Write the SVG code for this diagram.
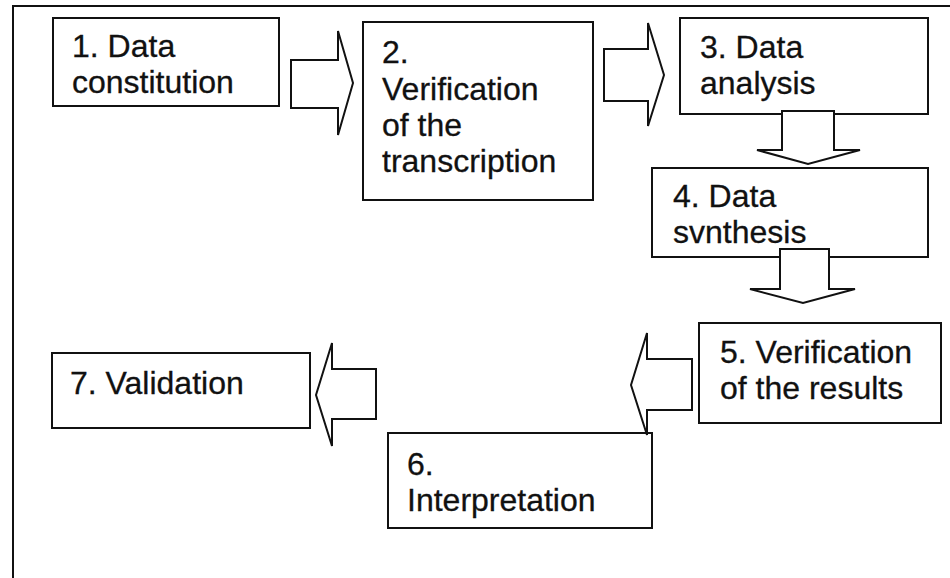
<svg xmlns="http://www.w3.org/2000/svg" width="950" height="578" viewBox="0 0 950 578">
<style>
.box{fill:#fff;stroke:#111;stroke-width:2}
.lbl{font-family:"Liberation Sans",Arial,Helvetica,sans-serif;font-size:32px;fill:#111;stroke:#111;stroke-width:0.3}
.arr{fill:#fff;stroke:#111;stroke-width:2;stroke-linejoin:miter}
.frame{fill:none;stroke:#111;stroke-width:2}
</style>
<rect width="950" height="578" fill="#fff"/>
<path class="frame" d="M13,578 V6 H950"/>
<g id="node1">
<rect class="box" x="53" y="18" width="226" height="88"/>
<text class="lbl"><tspan x="72" y="57">1. Data</tspan><tspan x="72" y="93">constitution</tspan></text>
</g>
<g id="node2">
<rect class="box" x="363" y="22" width="230" height="178"/>
<text class="lbl"><tspan x="382" y="63">2.</tspan><tspan x="382" y="100">Verification</tspan><tspan x="382" y="136">of the</tspan><tspan x="382" y="172">transcription</tspan></text>
</g>
<g id="node3">
<rect class="box" x="680" y="18" width="248" height="96"/>
<text class="lbl"><tspan x="700" y="58">3. Data</tspan><tspan x="700" y="94">analysis</tspan></text>
</g>
<g id="node4">
<rect class="box" x="652" y="168" width="276" height="89"/>
<text class="lbl"><tspan x="673" y="207">4. Data</tspan><tspan x="673" y="243">svnthesis</tspan></text>
</g>
<g id="node5">
<rect class="box" x="699" y="323" width="242" height="100"/>
<text class="lbl"><tspan x="720" y="363">5. Verification</tspan><tspan x="720" y="399">of the results</tspan></text>
</g>
<g id="node6">
<rect class="box" x="388" y="433" width="264" height="95"/>
<text class="lbl"><tspan x="407" y="475">6.</tspan><tspan x="407" y="511">Interpretation</tspan></text>
</g>
<g id="node7">
<rect class="box" x="52" y="353" width="258" height="75"/>
<text class="lbl" x="70" y="394">7. Validation</text>
</g>
<g id="connectors">
<path class="arr" d="M291,60 H338 V31 L353,83 L338,135 V108 H291 Z"/>
<path class="arr" d="M604,49 H648 V23 L664,75 L648,126 V101 H604 Z"/>
<path class="arr" d="M782,111 H834 V150 H860 L808,164 L757,150 H782 Z"/>
<path class="arr" d="M780,249 H829 V289 H855 L803,303 L750,289 H780 Z"/>
<path class="arr" d="M692,359 H647 V333 L631,385 L647,435 V410 H692 Z"/>
<path class="arr" d="M376,369 H332 V343 L316,395 L332,446 V419 H376 Z"/>
</g>
</svg>
